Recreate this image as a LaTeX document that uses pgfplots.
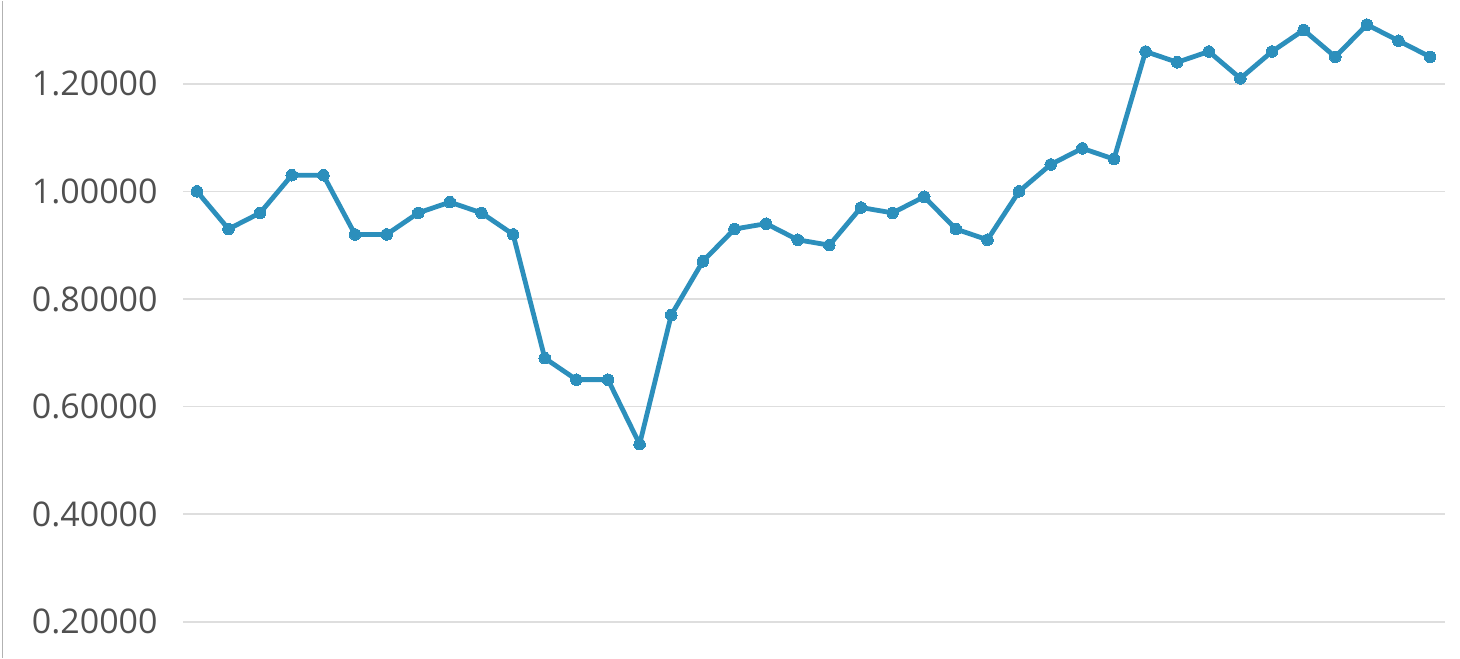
\documentclass[border=0pt]{standalone}
\usepackage{fontspec}
\setmainfont{Open Sans}
\usepackage{pgfplots}
\pgfplotsset{compat=1.18}
\definecolor{lineblue}{RGB}{44,143,188}
\definecolor{gridgray}{RGB}{222,222,222}
\definecolor{labgray}{RGB}{80,80,80}
\begin{document}
\begin{tikzpicture}
\begin{axis}[
  at={(91.5pt,0pt)}, anchor=south west,
  scale only axis,
  width=631pt, height=328.5pt,
  xmin=-0.44, xmax=39.47,
  ymin=0.1329, ymax=1.3543,
  axis line style={draw=none},
  ytick={0.2,0.4,0.6,0.8,1.0,1.2},
  xtick=\empty,
  ymajorgrids,
  grid style={gridgray, line width=0.8pt},
  major tick length=0pt,
  yticklabel style={font=\fontsize{17}{20}\selectfont, text=labgray, anchor=east, inner sep=0pt, xshift=-12.5pt},
  /pgf/number format/assume math mode=true,
  yticklabel={\pgfmathprintnumber[fixed, zerofill, precision=5]{\tick}},
  clip=false,
]
\addplot[lineblue, line width=2.4pt, line join=round, mark=*, mark size=2.9pt, mark options={fill=lineblue, draw=lineblue, line width=0pt}] coordinates {
(0,1.00) (1,0.93) (2,0.96) (3,1.03) (4,1.03) (5,0.92) (6,0.92) (7,0.96) (8,0.98) (9,0.96)
(10,0.92) (11,0.69) (12,0.65) (13,0.65) (14,0.53) (15,0.77) (16,0.87) (17,0.93) (18,0.94) (19,0.91)
(20,0.90) (21,0.97) (22,0.96) (23,0.99) (24,0.93) (25,0.91) (26,1.00) (27,1.05) (28,1.08) (29,1.06)
(30,1.26) (31,1.24) (32,1.26) (33,1.21) (34,1.26) (35,1.30) (36,1.25) (37,1.31) (38,1.28) (39,1.25)
};
\end{axis}
\pgfresetboundingbox
\path (0,0) rectangle (730pt,328.5pt);
\draw[gray!60, line width=0.8pt] (1.2pt,0) -- (1.2pt,328.5pt);
\end{tikzpicture}
\end{document}
